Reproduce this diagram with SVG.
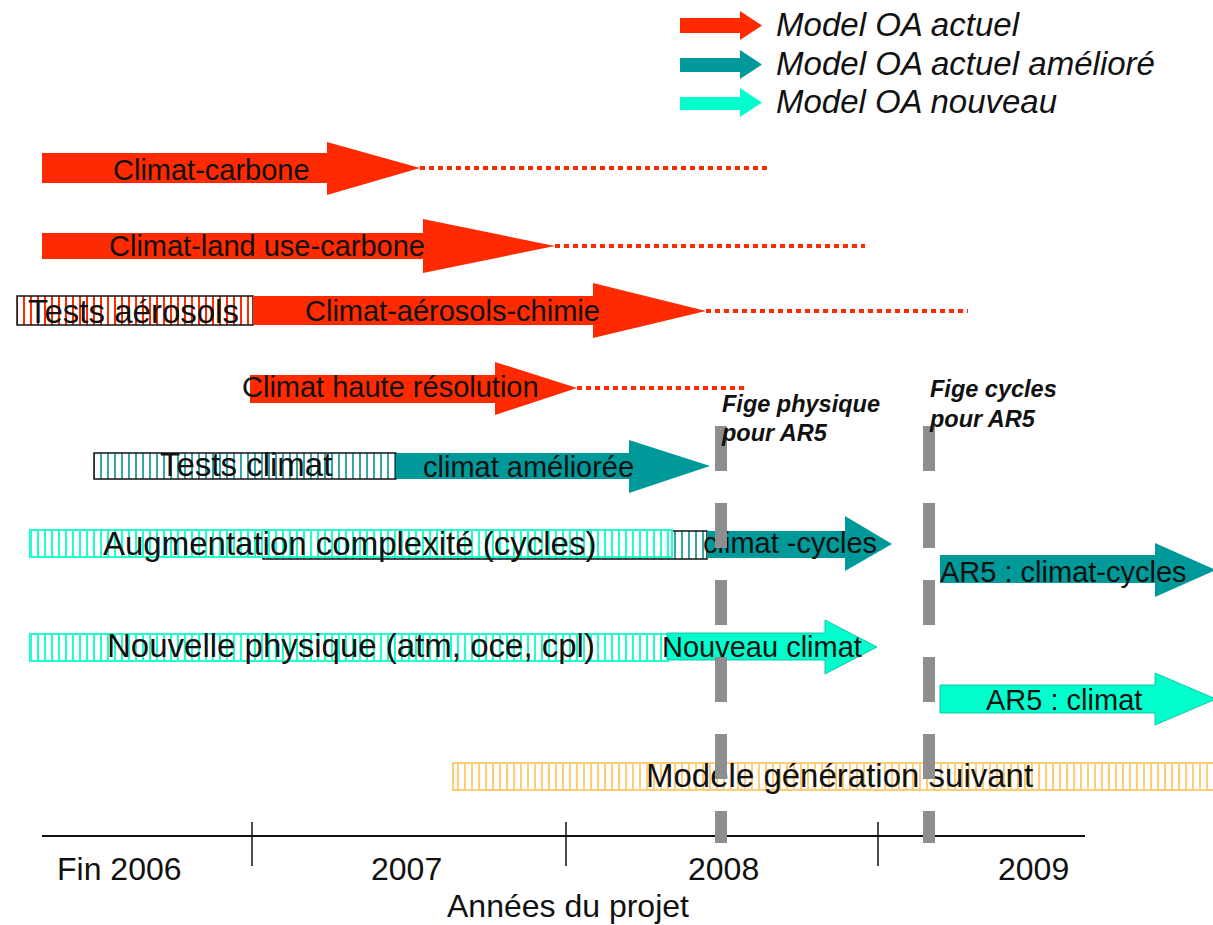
<svg xmlns="http://www.w3.org/2000/svg" width="1213" height="925" viewBox="0 0 1213 925">
<style>
.lbl{font-family:"Liberation Sans",Arial,sans-serif;fill:#111;}
.s29{font-size:29px;}
.s33{font-size:33px;}
.leg{font-family:"Liberation Sans",Arial,sans-serif;font-style:italic;font-size:32.5px;fill:#111;}
.fige{font-family:"Liberation Sans",Arial,sans-serif;font-style:italic;font-weight:bold;font-size:23.5px;fill:#111;}
.yr{font-family:"Liberation Sans",Arial,sans-serif;font-size:32px;fill:#111;}
.red{fill:#ff2a00;}
.teal{fill:#009999;}
.cyan{fill:#00ffcc;stroke:#10c8a8;stroke-width:1;}
.dots{stroke:#ff2a00;stroke-width:4;stroke-dasharray:5 4;fill:none;}
.bar{stroke:#8e8e8e;stroke-width:12;stroke-dasharray:45 32;fill:none;}
</style>
<defs>
<pattern id="hRed" width="7" height="10" patternUnits="userSpaceOnUse"><rect width="7" height="10" fill="#fff"/><rect x="2" width="2" height="10" fill="#ff2a00"/></pattern>
<pattern id="hTeal" width="7" height="10" patternUnits="userSpaceOnUse"><rect width="7" height="10" fill="#fff"/><rect x="2" width="2" height="10" fill="#3aa5a5"/></pattern>
<pattern id="hCyan" width="7" height="10" patternUnits="userSpaceOnUse"><rect width="7" height="10" fill="#fff"/><rect x="2" width="2" height="10" fill="#22ffcc"/></pattern>
<pattern id="hOrange" width="7" height="10" patternUnits="userSpaceOnUse"><rect width="7" height="10" fill="#fff"/><rect x="2" width="2" height="10" fill="#ffcc77"/></pattern>
</defs>

<g id="legend">
<polygon class="red" points="680,18 740,18 740,11 762,25.5 740,40 740,33 680,33"/>
<polygon class="teal" points="680,58 740,58 740,50 762,64.5 740,79 740,72 680,72"/>
<polygon class="cyan" style="stroke:none" points="680,97 740,97 740,88 762,102.5 740,117 740,110 680,110"/>
<text class="leg" x="776" y="36" textLength="243" lengthAdjust="spacingAndGlyphs">Model OA actuel</text>
<text class="leg" x="776" y="75" textLength="379" lengthAdjust="spacingAndGlyphs">Model OA actuel amélioré</text>
<text class="leg" x="776" y="113" textLength="281" lengthAdjust="spacingAndGlyphs">Model OA nouveau</text>
</g>

<g id="connectors">
<line class="dots" x1="420" y1="168" x2="770" y2="168"/>
<line class="dots" x1="555" y1="246" x2="865" y2="246"/>
<line class="dots" x1="706" y1="311" x2="968" y2="311"/>
<line class="dots" x1="577" y1="388" x2="748" y2="388"/>
</g>

<g id="climat-carbone">
<polygon class="red" points="42,153 327,153 327,142 420,168 327,195 327,183 42,183"/>
<text class="lbl s29" x="113" y="180">Climat-carbone</text>
</g>

<g id="climat-land-use-carbone">
<polygon class="red" points="42,233 423,233 423,219 555,246 423,273 423,259 42,259"/>
<text class="lbl s29" x="109" y="256">Climat-land use-carbone</text>
</g>

<g id="tests-aerosols">
<rect x="17" y="296" width="236" height="29" fill="url(#hRed)" stroke="#111" stroke-width="1.5"/>
<text class="lbl s33" x="28" y="323">Tests aérosols</text>
</g>

<g id="climat-aerosols-chimie">
<polygon class="red" points="253,296 593,296 593,283 706,311 593,338 593,325 253,325"/>
<text class="lbl s29" x="305" y="321">Climat-aérosols-chimie</text>
</g>

<g id="climat-haute-resolution">
<polygon class="red" points="250,375 495,375 495,362 577,388 495,415 495,403 250,403"/>
<text class="lbl s29" x="242" y="397">Climat haute résolution</text>
</g>

<g id="tests-climat">
<rect x="94" y="453" width="302" height="26" fill="url(#hTeal)" stroke="#111" stroke-width="1.5"/>
<text class="lbl s33" x="160" y="476">Tests climat</text>
</g>

<g id="climat-amelioree">
<polygon class="teal" points="396,453 629,453 629,440 710,466 629,493 629,479 396,479"/>
<text class="lbl s29" x="423" y="477">climat améliorée</text>
</g>

<g id="augmentation-complexite">
<rect x="263" y="531" width="444" height="28" fill="url(#hTeal)" stroke="#111" stroke-width="1.5"/>
<rect x="30" y="530" width="642" height="27" fill="url(#hCyan)" stroke="#22ffcc" stroke-width="2"/>
<text class="lbl s33" x="103" y="555">Augmentation complexité (cycles)</text>
</g>

<g id="climat-cycles">
<polygon class="teal" points="707,531 845,531 845,516 892,544 845,571 845,558 707,558"/>
<text class="lbl s29" x="703" y="553">climat -cycles</text>
</g>

<g id="nouvelle-physique">
<rect x="30" y="634" width="638" height="27" fill="url(#hCyan)" stroke="#22ffcc" stroke-width="2"/>
<text class="lbl s33" x="107" y="657">Nouvelle physique (atm, oce, cpl)</text>
</g>

<g id="nouveau-climat">
<polygon class="cyan" points="667,633 825,633 825,620 877,647 825,674 825,660 667,660"/>
<text class="lbl s29" x="662" y="657">Nouveau climat</text>
</g>

<g id="ar5-climat-cycles">
<polygon class="teal" points="940,555 1155,555 1155,543 1216,570 1155,597 1155,583 940,583"/>
<text class="lbl s29" x="940" y="582">AR5 : climat-cycles</text>
</g>

<g id="ar5-climat">
<polygon class="cyan" points="940,685 1155,685 1155,673 1216,699 1155,725 1155,713 940,713"/>
<text class="lbl s29" x="986" y="710">AR5 : climat</text>
</g>

<g id="modele-generation-suivant">
<rect x="453" y="763" width="765" height="27" fill="url(#hOrange)" stroke="#ffcc77" stroke-width="2"/>
<text class="lbl s33" x="646" y="787">Modèle génération suivant</text>
</g>

<g id="axis">
<line x1="42" y1="836" x2="1085" y2="836" stroke="#111" stroke-width="2"/>
<line x1="252" y1="822" x2="252" y2="866" stroke="#111" stroke-width="1.5"/>
<line x1="566" y1="822" x2="566" y2="866" stroke="#111" stroke-width="1.5"/>
<line x1="878" y1="822" x2="878" y2="866" stroke="#111" stroke-width="1.5"/>
<text class="yr" x="57" y="880">Fin 2006</text>
<text class="yr" x="371" y="880">2007</text>
<text class="yr" x="688" y="880">2008</text>
<text class="yr" x="998" y="880">2009</text>
<text class="yr" x="447" y="917">Années du projet</text>
</g>

<g id="milestones">
<line class="bar" x1="721" y1="426" x2="721" y2="843"/>
<line class="bar" x1="929" y1="426" x2="929" y2="843"/>
</g>

<g id="fige-physique">
<text class="fige" x="722" y="412">Fige physique</text>
<text class="fige" x="722" y="441">pour AR5</text>
</g>

<g id="fige-cycles">
<text class="fige" x="930" y="397">Fige cycles</text>
<text class="fige" x="930" y="427">pour AR5</text>
</g>
</svg>
